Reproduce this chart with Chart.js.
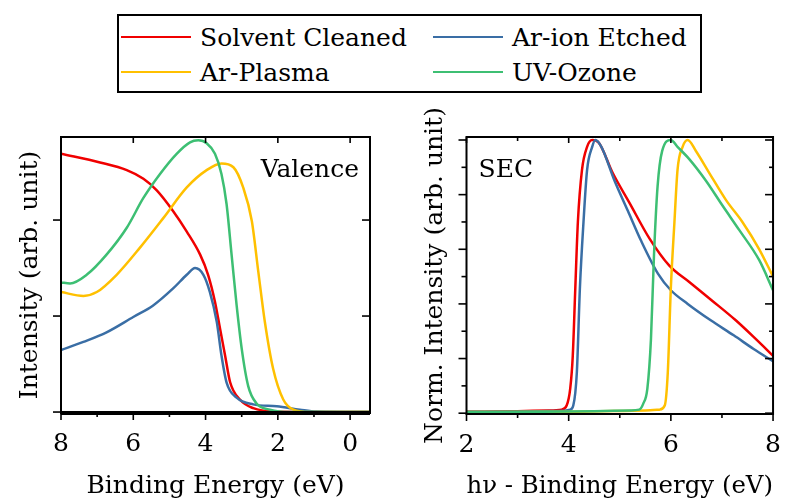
<!DOCTYPE html>
<html>
<head>
<meta charset="utf-8">
<script src="https://cdn.jsdelivr.net/npm/chart.js@4"></script>
<style>
  html, body { margin: 0; padding: 0; background: #fff; }
  body { width: 787px; height: 502px; position: relative; overflow: hidden; font-family: "DejaVu Serif", serif; }
  #legend { position: absolute; left: 117px; top: 14px; width: 581px; height: 75px; border: 2px solid #000; }
  .item { position: absolute; height: 30px; display: flex; align-items: center; font-size: 25px; color: #000; white-space: nowrap; }
  .item i { display: inline-block; width: 70px; height: 2.5px; margin-right: 9px; }
  canvas { position: absolute; }
  #val { left: 0; top: 100px; }
  #sec { left: 395px; top: 100px; }
</style>
</head>
<body>
<div id="legend"></div>
<canvas id="val" width="390" height="402"></canvas>
<canvas id="sec" width="405" height="402"></canvas>
<script>
/* XPS/UPS comparison: valence band (left) and secondary electron cutoff (right) */
const NAMES = ["Solvent Cleaned", "Ar-ion Etched", "Ar-Plasma", "UV-Ozone"];
const COLORS = ["#f00000", "#3a6ea5", "#ffc000", "#3dbf73"];
const ORDER = [3, 2, 1, 0]; // green drawn on top

// ---- valence band, binding energy (eV) vs intensity (arb.) ----
const valX_solvent = [8, 6.92, 6.18, 5.72, 5.35, 4.89, 4.52, 4.15, 3.93, 3.74, 3.60, 3.46, 3.32, 3.05, 2.68, 2.13, 1.0, -0.55];
const valY_solvent = [2.69, 2.60, 2.52, 2.43, 2.31, 2.09, 1.88, 1.64, 1.43, 1.15, 0.87, 0.59, 0.31, 0.13, 0.04, 0.005, 0.0, 0.0];
const valX_arion = [8, 7.38, 6.74, 6.0, 5.45, 4.89, 4.52, 4.29, 4.06, 3.88, 3.69, 3.56, 3.42, 3.14, 2.68, 2.03, 1.39, 0.93, -0.55];
const valY_arion = [0.645, 0.73, 0.83, 0.99, 1.11, 1.29, 1.43, 1.50, 1.43, 1.25, 0.94, 0.59, 0.31, 0.15, 0.08, 0.06, 0.025, 0.005, 0.0];
const valX_plasma = [8, 7.38, 7.01, 6.46, 5.82, 5.17, 4.52, 3.97, 3.56, 3.23, 2.96, 2.72, 2.54, 2.36, 2.13, 1.85, 1.57, 1.11, -0.55];
const valY_plasma = [1.25, 1.21, 1.25, 1.43, 1.71, 2.02, 2.34, 2.52, 2.59, 2.55, 2.34, 1.99, 1.46, 0.94, 0.45, 0.13, 0.025, 0.0, 0.0];
const valX_uv = [8, 7.75, 7.29, 6.74, 6.18, 5.72, 5.26, 4.80, 4.43, 4.20, 3.97, 3.74, 3.56, 3.42, 3.28, 3.14, 3.0, 2.82, 2.59, 2.22, 1.67, -0.55];
const valY_uv = [1.35, 1.34, 1.43, 1.64, 1.92, 2.23, 2.48, 2.69, 2.81, 2.83, 2.80, 2.69, 2.48, 2.17, 1.64, 1.11, 0.66, 0.27, 0.09, 0.025, 0.0, 0.0];

// ---- SEC, hv - binding energy (eV) vs normalized intensity ----
const secX_solvent = [2, 3.0, 3.6, 3.86, 3.96, 4.03, 4.08, 4.13, 4.18, 4.26, 4.36, 4.46, 4.59, 4.86, 5.19, 5.58, 5.97, 6.36, 6.82, 7.27, 7.67, 8.0];
const secY_solvent = [0.005, 0.007, 0.01, 0.013, 0.028, 0.09, 0.21, 0.46, 0.70, 0.89, 0.975, 1.0, 0.99, 0.88, 0.77, 0.64, 0.54, 0.48, 0.41, 0.34, 0.27, 0.21];
const secX_arion = [2, 3.0, 3.8, 4.03, 4.09, 4.16, 4.22, 4.29, 4.36, 4.46, 4.52, 4.64, 4.90, 5.16, 5.42, 5.75, 6.0, 6.33, 6.78, 7.23, 7.62, 8.0];
const secY_arion = [0.005, 0.006, 0.008, 0.013, 0.028, 0.15, 0.46, 0.70, 0.89, 0.975, 1.0, 0.975, 0.85, 0.74, 0.63, 0.51, 0.45, 0.40, 0.34, 0.285, 0.235, 0.19];
const secX_plasma = [2, 4, 5.5, 5.78, 5.88, 5.94, 6.0, 6.07, 6.13, 6.23, 6.33, 6.49, 6.75, 7.08, 7.40, 7.73, 8.0];
const secY_plasma = [0.004, 0.005, 0.01, 0.013, 0.028, 0.15, 0.46, 0.70, 0.89, 0.975, 1.0, 0.96, 0.88, 0.78, 0.70, 0.60, 0.50];
const secX_uv = [2, 3.5, 4.5, 5.2, 5.38, 5.46, 5.54, 5.61, 5.67, 5.74, 5.83, 6.0, 6.13, 6.36, 6.69, 7.01, 7.34, 7.73, 8.0];
const secY_uv = [0.004, 0.005, 0.007, 0.01, 0.013, 0.035, 0.09, 0.27, 0.58, 0.83, 0.96, 1.0, 0.975, 0.93, 0.85, 0.76, 0.67, 0.56, 0.45];

// tick positions (major carry labels on the bottom axis)
const valTicksMajor = [8, 6, 4, 2, 0], valTicksMinor = [7, 5, 3, 1];
const valYMajor = [0, 1, 2];
const secTicksMajor = [2, 4, 6, 8], secTicksMinor = [3, 5, 7];
const secYMajor = [0, 0.2, 0.4, 0.6, 0.8, 1.0], secYMinor = [0.1, 0.3, 0.5, 0.7, 0.9];

Chart.defaults.font.family = "'DejaVu Serif', serif";
Chart.defaults.color = "#000";

// legend (2 x 2, row-major)
const LEG_POS = [[2, 6], [314, 6], [2, 41], [314, 41]];
document.getElementById("legend").innerHTML = NAMES.map((n, i) =>
  `<div class="item" style="left:${LEG_POS[i][0]}px;top:${LEG_POS[i][1]}px"><i style="background:${COLORS[i]}"></i>${n}</div>`).join("");

const zip = (xs, ys) => xs.map((x, i) => ({ x, y: ys[i] }));
const series = (xs, ys, i) => ({
  label: NAMES[i], data: zip(xs, ys), borderColor: COLORS[i], backgroundColor: COLORS[i],
  borderWidth: 2.5, pointRadius: 0, cubicInterpolationMode: "monotone", order: ORDER[i], showLine: true,
});

// box frame + in/out tick marks + panel tag
const frame = {
  id: "frame",
  afterDatasetsDraw(chart, args, o) {
    const { ctx, chartArea: a, scales: { x, y } } = chart;
    ctx.save();
    ctx.strokeStyle = "#000";
    ctx.lineCap = "butt";
    const seg = (x1, y1, x2, y2, w) => { ctx.lineWidth = w; ctx.beginPath(); ctx.moveTo(x1, y1); ctx.lineTo(x2, y2); ctx.stroke(); };
    o.xMajor.forEach(v => { const p = x.getPixelForValue(v); seg(p, a.bottom, p, a.bottom + 7, 1.6); seg(p, a.top, p, a.top + 6, 1.6); });
    o.xMinor.forEach(v => { const p = x.getPixelForValue(v); seg(p, a.bottom, p, a.bottom + 4, 1.6); if (o.topMinor) seg(p, a.top, p, a.top + 4, 1.6); });
    o.yMajor.forEach(v => { const p = y.getPixelForValue(v); seg(a.left - 8, p, a.left, p, 1.6); seg(a.right - 8, p, a.right, p, 1.6); });
    o.yMinor.forEach(v => { const p = y.getPixelForValue(v); seg(a.left - 5, p, a.left, p, 1.6); seg(a.right - 4, p, a.right, p, 1.6); });
    ctx.lineWidth = 2;
    ctx.strokeRect(a.left, a.top, a.right - a.left, a.bottom - a.top);
    if (o.baseWidth) seg(a.left, a.bottom, a.right, a.bottom, o.baseWidth);
    ctx.fillStyle = "#000";
    ctx.font = "25px 'DejaVu Serif'";
    ctx.textBaseline = "alphabetic";
    ctx.textAlign = o.tagAlign;
    ctx.fillText(o.tag, o.tagAlign === "right" ? a.right - 11 : a.left + 12, a.top + 40);
    ctx.restore();
  }
};

const tickFont = { size: 25, lineHeight: 1 };
const titleFont = { size: 25, lineHeight: 1 };

new Chart(document.getElementById("val"), {
  type: "scatter",
  data: { datasets: [
    series(valX_solvent, valY_solvent, 0), series(valX_arion, valY_arion, 1),
    series(valX_plasma, valY_plasma, 2), series(valX_uv, valY_uv, 3),
  ] },
  options: {
    responsive: false, animation: false, events: [],
    layout: { padding: { top: 37, right: 20, left: 0, bottom: 0 } },
    plugins: {
      legend: { display: false }, tooltip: { enabled: false },
      frame: { xMajor: valTicksMajor, xMinor: valTicksMinor, topMinor: false, yMajor: valYMajor, yMinor: [], baseWidth: 4, tag: "Valence", tagAlign: "right" },
    },
    scales: {
      x: {
        type: "linear", reverse: true, min: -0.55, max: 8,
        grid: { display: false, drawTicks: false }, border: { display: false },
        ticks: { stepSize: 2, includeBounds: false, font: tickFont, padding: 19, maxRotation: 0 },
        title: { display: true, text: "Binding Energy (eV)", font: titleFont, padding: { top: -2, bottom: 3 } },
      },
      y: {
        min: -0.01, max: 2.865,
        grid: { display: false, drawTicks: false }, border: { display: false },
        ticks: { display: false },
        title: { display: true, text: "Intensity (arb. unit)", font: titleFont, padding: { top: 17.5, bottom: 18.5 } },
      },
    },
  },
  plugins: [frame],
});

new Chart(document.getElementById("sec"), {
  type: "scatter",
  data: { datasets: [
    series(secX_solvent, secY_solvent, 0), series(secX_arion, secY_arion, 1),
    series(secX_plasma, secY_plasma, 2), series(secX_uv, secY_uv, 3),
  ] },
  options: {
    responsive: false, animation: false, events: [],
    layout: { padding: { top: 37, right: 0, left: 0, bottom: 0 } },
    plugins: {
      legend: { display: false }, tooltip: { enabled: false },
      frame: { xMajor: secTicksMajor, xMinor: secTicksMinor, topMinor: true, yMajor: secYMajor, yMinor: secYMinor, baseWidth: 0, tag: "SEC", tagAlign: "left" },
    },
    scales: {
      x: {
        type: "linear", min: 2, max: 8,
        grid: { display: false, drawTicks: false }, border: { display: false },
        ticks: { stepSize: 2, includeBounds: false, font: tickFont, padding: 19, maxRotation: 0 },
        title: { display: true, text: "hν - Binding Energy (eV)", font: titleFont, padding: { top: -3, bottom: 3 } },
      },
      y: {
        min: -0.003, max: 1.011,
        grid: { display: false, drawTicks: false }, border: { display: false },
        ticks: { display: false },
        title: { display: true, text: "Norm. Intensity (arb. unit)", font: titleFont, padding: { top: 27.5, bottom: 19 } },
      },
    },
  },
  plugins: [frame],
});
</script>
</body>
</html>
